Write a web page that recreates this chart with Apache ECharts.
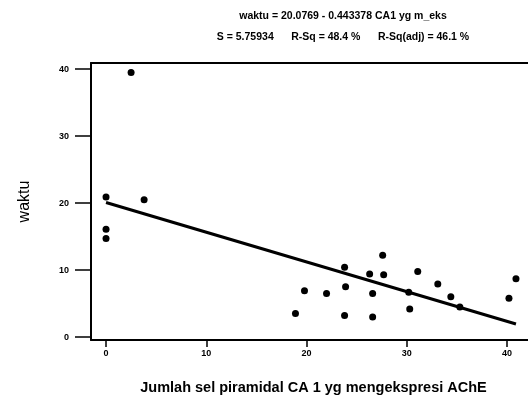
<!DOCTYPE html>
<html>
<head>
<meta charset="utf-8">
<script src="https://cdn.jsdelivr.net/npm/echarts@6/dist/echarts.min.js"></script>
<style>
  html, body { margin: 0; padding: 0; background: #fff; }
  #chart { width: 528px; height: 400px; }
</style>
</head>
<body>
<div id="chart"></div>
<script>
// data
const cellCount = [2.5, 0, 3.8, 0, 0, 27.6, 23.8, 26.3, 27.7, 31.1, 19.8, 22.0, 23.9, 26.6, 30.2, 33.1, 34.4, 35.3, 18.9, 23.8, 26.6, 30.3, 40.9, 40.2];
const waktu = [39.5, 20.9, 20.5, 16.1, 14.7, 12.2, 10.4, 9.4, 9.3, 9.8, 6.9, 6.5, 7.5, 6.5, 6.7, 7.9, 6.0, 4.5, 3.5, 3.2, 3.0, 4.2, 8.7, 5.8];
const xTicks = [0, 10, 20, 30, 40];
const yTicks = [0, 10, 20, 30, 40];

// regression coefficients (from the title)
const intercept = 20.0769;
const slope = -0.443378;

const points = cellCount.map((x, i) => [x, waktu[i]]);
const xMin = Math.min(...cellCount);
const xMax = Math.max(...cellCount);
const fitLine = [xMin, xMax].map((x) => [x, intercept + slope * x]);

const myChart = echarts.init(document.querySelector("#chart"));

const font = "Liberation Sans";

const option = {
  backgroundColor: "#fff",
  animation: false,
  title: {
    text: "waktu = 20.0769 - 0.443378 CA1 yg m_eks",
    subtext: "S = 5.75934      R-Sq = 48.4 %      R-Sq(adj) = 46.1 %",
    left: 338,
    textAlign: "center",
    top: 6,
    itemGap: 10,
    textStyle: { fontFamily: font, fontSize: 10.5, fontWeight: "bold", color: "#000" },
    subtextStyle: { fontFamily: font, fontSize: 10.5, fontWeight: "bold", color: "#000" },
  },
  grid: {
    left: 91,
    top: 63,
    right: 0,
    bottom: 58,
  },
  xAxis: [
    {
      type: "value",
      min: -1.5,
      max: 42.1,
      name: "Jumlah sel piramidal CA 1 yg mengekspresi AChE",
      nameLocation: "middle",
      nameGap: 40,
      nameTextStyle: { fontFamily: font, fontSize: 14.5, fontWeight: "bold", color: "#000", padding: [0, 0, 0, 8] },
      axisLine: { show: true, onZero: false, lineStyle: { color: "#000", width: 2 } },
      axisTick: { show: true, length: 7, customValues: xTicks, lineStyle: { color: "#000", width: 1.5 } },
      axisLabel: { customValues: xTicks, margin: 9, fontFamily: font, fontSize: 9, fontWeight: "bold", color: "#000" },
      splitLine: { show: false },
    },
    {
      // top frame line
      type: "value",
      position: "top",
      min: -1.5,
      max: 42.1,
      axisLine: { show: true, onZero: false, lineStyle: { color: "#000", width: 2 } },
      axisTick: { show: false },
      axisLabel: { show: false },
      splitLine: { show: false },
    },
  ],
  yAxis: {
    type: "value",
    min: -0.44,
    max: 40.9,
    name: "waktu",
    nameLocation: "middle",
    nameGap: 58,
    nameTextStyle: { fontFamily: font, fontSize: 16, color: "#000" },
    axisLine: { show: true, onZero: false, lineStyle: { color: "#000", width: 2 } },
    axisTick: { show: true, length: 16, customValues: yTicks, lineStyle: { color: "#000", width: 1.5 } },
    axisLabel: { customValues: yTicks, margin: 22, fontFamily: font, fontSize: 9, fontWeight: "bold", color: "#000" },
    splitLine: { show: false },
  },
  series: [
    {
      name: "fit",
      type: "line",
      data: fitLine,
      symbol: "none",
      lineStyle: { color: "#000", width: 3 },
      z: 2,
    },
    {
      name: "data",
      type: "scatter",
      data: points,
      symbol: "circle",
      symbolSize: 7,
      itemStyle: { color: "#000", opacity: 1 },
      z: 3,
    },
  ],
};

myChart.setOption(option);
</script>
</body>
</html>
